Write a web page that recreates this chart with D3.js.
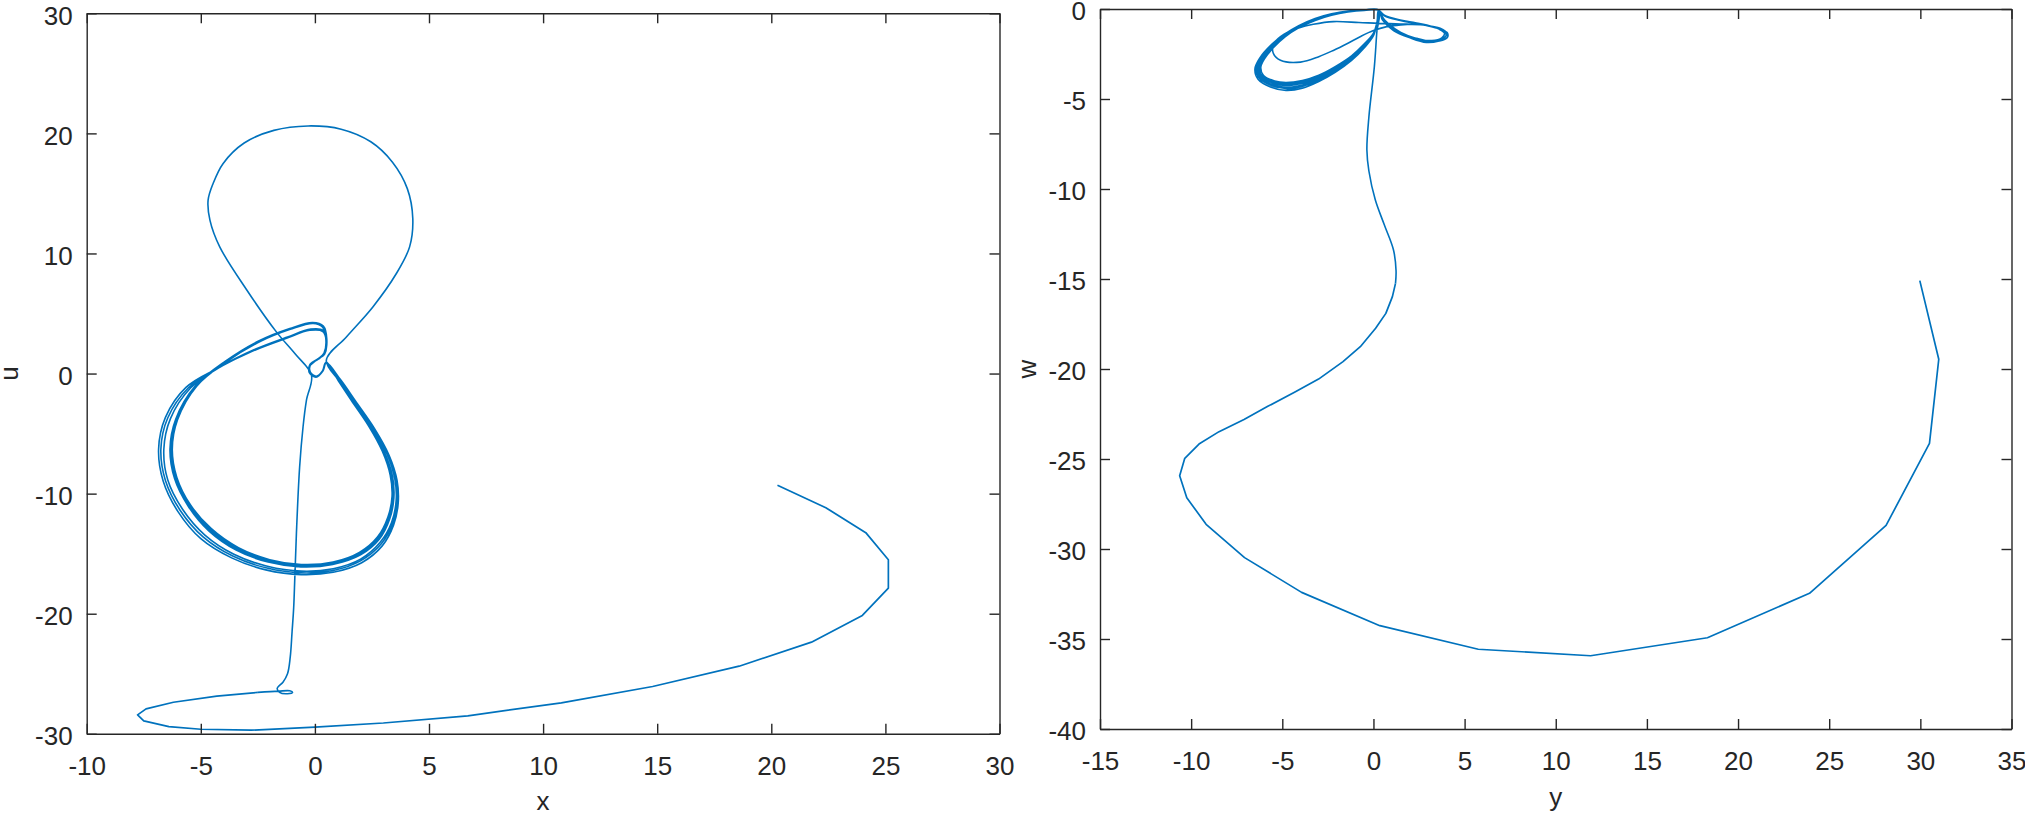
<!DOCTYPE html>
<html><head><meta charset="utf-8">
<script src="https://cdn.jsdelivr.net/npm/d3@7"></script>
<style>
body{margin:0;background:#fff}
svg{display:block}
text{font-family:"Liberation Sans",Arial,Helvetica,sans-serif}
</style>
</head><body>
<svg id="chart" width="2025" height="817"></svg>
<script>
// ---------- tick values ----------
const leftXTicks = [-10,-5,0,5,10,15,20,25,30];
const leftUTicks = [-30,-20,-10,0,10,20,30];
const rightYTicks = [-15,-10,-5,0,5,10,15,20,25,30,35];
const rightWTicks = [-40,-35,-30,-25,-20,-15,-10,-5,0];

// ---------- left panel (x, u) ----------
const leftTail = [[20.27,-9.31],[22.39,-11.17],[24.14,-13.25],[25.13,-15.5],[25.13,-17.87],[23.99,-20.14],[21.76,-22.37],[18.59,-24.37],[14.8,-26.06],[10.8,-27.42],[6.7,-28.5],[3.0,-29.1],[0.0,-29.45],[-2.8,-29.7],[-5.0,-29.62],[-6.4,-29.4],[-7.5,-28.92],[-7.77,-28.42],[-7.4,-27.92],[-6.2,-27.37],[-4.3,-26.87],[-2.5,-26.55]];
const leftEntry = [[-2.5,-26.55],[-1.6,-26.45],[-1.1,-26.42],[-0.98,-26.55],[-1.2,-26.66],[-1.55,-26.55],[-1.65,-26.2],[-1.4,-25.7],[-1.2,-25.0],[-1.08,-23.6],[-1.0,-21.5],[-0.93,-19.5],[-0.88,-17.0],[-0.81,-13.3],[-0.67,-7.8],[-0.52,-4.45],[-0.37,-2.22],[-0.15,-0.14],
 [-0.85,1.6],[-1.68,3.45],[-3.0,7.0],[-4.17,10.55],[-4.6,12.78],[-4.68,14.44],[-4.46,15.83],[-4.02,17.5],[-3.1,19.2],[-1.8,20.25],[-0.3,20.62],[1.15,20.35],[2.45,19.3],[3.4,17.6],[4.05,15.4],[4.29,12.9],[4.15,10.55],[3.57,8.33],[2.54,5.55],[1.38,3.05],[0.5,1.1]];
const leftLoops = [
 [[1.05,-0.6],[1.65,-2.3],[2.4,-4.4],[3.0,-6.5],[3.35,-8.5],[3.42,-10.3],[3.25,-12.0],[2.8,-13.7],[2.0,-15.0],[0.8,-15.8],[-0.6,-16.0],[-2.0,-15.6],[-3.4,-14.6],[-4.6,-13.0],[-5.5,-11.0],[-6.1,-8.7],[-6.3,-6.3],[-6.05,-3.8],[-5.2,-1.0],[-3.9,1.0],[-2.4,2.7],[-1.1,3.7],[-0.1,4.2],[0.35,3.9],[0.5,2.9],[0.42,1.7],[0.15,1.2],[-0.2,0.8],[-0.25,0.1],[0.05,-0.3],[0.35,0.2],[0.5,0.9]],
 [[1.08,-0.62],[1.7,-2.35],[2.45,-4.45],[3.05,-6.55],[3.4,-8.55],[3.46,-10.35],[3.28,-12.1],[2.82,-13.8],[2.0,-15.1],[0.78,-15.9],[-0.62,-16.1],[-2.05,-15.7],[-3.45,-14.7],[-4.65,-13.1],[-5.55,-11.05],[-6.15,-8.75],[-6.35,-6.3],[-6.1,-3.8],[-5.22,-0.98],[-3.92,1.03],[-2.42,2.75],[-1.1,3.75],[-0.1,4.25],[0.37,3.95],[0.52,2.9],[0.43,1.7],[0.15,1.2],[-0.22,0.75],[-0.22,0.05],[0.08,-0.25],[0.36,0.25],[0.5,0.95]],
 [[1.02,-0.58],[1.6,-2.25],[2.35,-4.35],[2.95,-6.45],[3.3,-8.45],[3.38,-10.25],[3.2,-11.95],[2.75,-13.6],[1.95,-14.9],[0.8,-15.7],[-0.6,-15.9],[-1.98,-15.5],[-3.35,-14.5],[-4.55,-12.9],[-5.45,-10.95],[-6.05,-8.65],[-6.25,-6.3],[-6.02,-3.85],[-5.18,-1.05],[-3.88,0.98],[-2.38,2.68],[-1.08,3.68],[-0.08,4.18],[0.33,3.88],[0.48,2.88],[0.4,1.7],[0.13,1.22],[-0.18,0.8],[-0.2,0.12],[0.06,-0.22],[0.33,0.22],[0.48,0.92]],
 [[1.1,-0.5],[1.75,-2.3],[2.55,-4.5],[3.2,-6.7],[3.55,-8.8],[3.6,-10.7],[3.4,-12.5],[2.9,-14.2],[2.0,-15.6],[0.8,-16.4],[-0.6,-16.6],[-2.1,-16.2],[-3.6,-15.2],[-4.9,-13.6],[-5.9,-11.4],[-6.55,-8.9],[-6.75,-6.3],[-6.45,-3.7],[-5.55,-1.2],[-4.2,0.5],[-2.7,1.9],[-1.25,2.95],[-0.2,3.65],[0.35,3.55],[0.5,2.7],[0.42,1.6],[0.12,1.2],[-0.2,0.7],[-0.2,0.05],[0.08,-0.25],[0.35,0.25],[0.5,0.9]],
 [[1.06,-0.6],[1.67,-2.32],[2.42,-4.42],[3.03,-6.52],[3.37,-8.52],[3.44,-10.32],[3.26,-12.05],[2.8,-13.75],[1.98,-15.05],[0.79,-15.85],[-0.61,-16.05],[-2.02,-15.65],[-3.42,-14.65],[-4.62,-13.05],[-5.52,-11.02],[-6.12,-8.72],[-6.32,-6.3],[-6.07,-3.8],[-5.21,-0.99],[-3.91,1.02],[-2.41,2.72],[-1.1,3.72],[-0.1,4.22],[0.36,3.92],[0.51,2.9],[0.42,1.7],[0.14,1.21],[-0.2,0.78],[-0.23,0.08],[0.06,-0.27],[0.35,0.22],[0.5,0.92]],
 [[1.1,-0.52],[1.72,-2.3],[2.5,-4.5],[3.15,-6.65],[3.5,-8.75],[3.56,-10.6],[3.36,-12.4],[2.86,-14.05],[2.0,-15.45],[0.8,-16.25],[-0.6,-16.45],[-2.08,-16.05],[-3.55,-15.05],[-4.82,-13.45],[-5.8,-11.3],[-6.45,-8.85],[-6.62,-6.3],[-6.33,-3.75],[-5.45,-1.2],[-4.15,0.55],[-2.65,2.0],[-1.2,3.05],[-0.18,3.7],[0.36,3.6],[0.5,2.75],[0.42,1.62],[0.12,1.2],[-0.2,0.72],[-0.21,0.06],[0.07,-0.26],[0.35,0.24],[0.5,0.9]],
 [[1.04,-0.59],[1.63,-2.28],[2.38,-4.38],[2.98,-6.48],[3.33,-8.48],[3.4,-10.28],[3.23,-11.98],[2.78,-13.65],[1.97,-14.95],[0.8,-15.75],[-0.6,-15.95],[-1.99,-15.55],[-3.38,-14.55],[-4.58,-12.95],[-5.48,-10.98],[-6.08,-8.68],[-6.28,-6.3],[-6.04,-3.82],[-5.19,-1.02],[-3.89,0.99],[-2.39,2.69],[-1.09,3.69],[-0.09,4.19],[0.34,3.89],[0.49,2.89],[0.41,1.7],[0.14,1.21],[-0.19,0.79],[-0.22,0.1],[0.05,-0.26],[0.34,0.21],[0.49,0.91]],
 [[1.12,-0.5],[1.8,-2.35],[2.6,-4.55],[3.25,-6.8],[3.6,-8.9],[3.65,-10.8],[3.45,-12.6],[2.95,-14.35],[2.05,-15.75],[0.8,-16.55],[-0.6,-16.75],[-2.15,-16.35],[-3.65,-15.35],[-5.0,-13.75],[-6.0,-11.5],[-6.65,-8.95],[-6.85,-6.3],[-6.55,-3.65],[-5.65,-1.15],[-4.25,0.45],[-2.75,1.85],[-1.3,2.9],[-0.22,3.6],[0.35,3.5],[0.5,2.7],[0.42,1.6],[0.12,1.2],[-0.2,0.7]]
];

// ---------- right panel (y, w) ----------
const rightTail = [[29.97,-15.09],[31.01,-19.46],[30.5,-24.13],[28.12,-28.69],[23.92,-32.46],[18.32,-34.93],[11.91,-35.93],[5.75,-35.57],[0.35,-34.26],[-3.94,-32.41],[-7.07,-30.48],[-9.18,-28.63],[-10.24,-27.15],[-10.63,-25.93],[-10.35,-24.96],[-9.57,-24.17],[-8.47,-23.48],[-7.1,-22.8],[-5.82,-22.09],[-4.28,-21.26],[-3.01,-20.56],[-1.67,-19.59],[-0.72,-18.76],[0.12,-17.74],[0.68,-16.91],[1.04,-15.98],[1.21,-15.24]];
const rightEntry = [[1.21,-15.24],[1.24,-14.54],[1.1,-13.39],[0.6,-12.0],[0.1,-10.6],[-0.25,-9.0],[-0.36,-7.83],[-0.25,-6.0],[0.05,-3.2],[0.18,-1.35],[0.28,-0.06]];
const rightLoops = [
 [[-0.5,-0.05],[-1.4,-0.12],[-2.3,-0.28],[-3.2,-0.55],[-4.1,-0.95],[-4.9,-1.45],[-5.6,-2.05],[-6.15,-2.7],[-6.42,-3.3],[-6.25,-3.85],[-5.6,-4.25],[-4.8,-4.42],[-3.9,-4.3],[-3.0,-3.95],[-2.1,-3.45],[-1.2,-2.8],[-0.5,-2.1],[0.0,-1.45],[0.2,-0.75],[0.28,-0.08]],
 [[-0.5,-0.06],[-1.4,-0.14],[-2.3,-0.3],[-3.2,-0.58],[-4.1,-0.98],[-4.9,-1.48],[-5.6,-2.08],[-6.1,-2.72],[-6.36,-3.3],[-6.2,-3.82],[-5.55,-4.2],[-4.8,-4.35],[-3.9,-4.22],[-3.0,-3.88],[-2.1,-3.38],[-1.2,-2.74],[-0.5,-2.05],[0.0,-1.42],[0.2,-0.74],[0.28,-0.08]],
 [[0.6,-0.35],[1.47,-0.61],[2.3,-0.76],[2.93,-0.89],[3.5,-1.07],[3.95,-1.3],[3.95,-1.55],[3.5,-1.72],[2.9,-1.8],[2.0,-1.55],[1.1,-1.17],[0.5,-0.6],[0.28,-0.08]],
 [[-0.5,-0.07],[-1.4,-0.15],[-2.3,-0.32],[-3.2,-0.6],[-4.1,-1.0],[-4.9,-1.5],[-5.55,-2.1],[-6.05,-2.72],[-6.3,-3.28],[-6.15,-3.78],[-5.5,-4.12],[-4.8,-4.25],[-3.9,-4.12],[-3.0,-3.8],[-2.1,-3.3],[-1.2,-2.68],[-0.5,-2.0],[0.0,-1.38],[0.2,-0.72],[0.28,-0.08]],
 [[-0.5,-0.07],[-1.4,-0.16],[-2.3,-0.33],[-3.2,-0.62],[-4.1,-1.02],[-4.88,-1.52],[-5.52,-2.12],[-6.0,-2.72],[-6.25,-3.26],[-6.1,-3.74],[-5.48,-4.06],[-4.8,-4.17],[-3.9,-4.05],[-3.0,-3.74],[-2.1,-3.25],[-1.2,-2.64],[-0.5,-1.97],[0.0,-1.36],[0.2,-0.71],[0.28,-0.08]],
 [[0.6,-0.38],[1.47,-0.64],[2.3,-0.8],[2.95,-0.93],[3.6,-1.1],[4.05,-1.32],[4.05,-1.58],[3.6,-1.78],[2.9,-1.86],[2.0,-1.6],[1.1,-1.2],[0.5,-0.62],[0.28,-0.08]],
 [[-0.5,-0.08],[-1.4,-0.17],[-2.3,-0.35],[-3.2,-0.64],[-4.1,-1.05],[-4.85,-1.55],[-5.48,-2.14],[-5.95,-2.72],[-6.18,-3.24],[-6.03,-3.7],[-5.42,-4.0],[-4.8,-4.08],[-3.9,-3.97],[-3.0,-3.68],[-2.1,-3.2],[-1.2,-2.6],[-0.5,-1.94],[0.0,-1.34],[0.2,-0.7],[0.28,-0.08]],
 [[0.55,-0.52],[0.92,-0.98],[1.47,-1.35],[2.38,-1.63],[3.29,-1.81],[3.84,-1.63],[4.03,-1.35],[3.66,-1.07],[2.74,-0.89],[1.47,-0.83],[0.3,-0.8],[-0.8,-0.75],[-2.2,-0.7],[-3.3,-0.85],[-4.1,-1.05],[-4.9,-1.4],[-5.45,-1.9],[-5.5,-2.45],[-5.1,-2.85],[-4.0,-2.95],[-3.0,-2.65],[-2.2,-2.3],[-1.4,-1.9],[-0.73,-1.54],[0.0,-1.2],[0.73,-0.98],[1.5,-0.88],[2.3,-0.85],[3.0,-0.92],[3.6,-1.12],[3.9,-1.35],[3.75,-1.6],[3.2,-1.75],[2.4,-1.65],[1.5,-1.3],[0.8,-0.8],[0.4,-0.35],[0.28,-0.06]],
 [[-0.5,-0.05],[-1.4,-0.11],[-2.3,-0.27],[-3.2,-0.53],[-4.1,-0.93],[-4.92,-1.43],[-5.65,-2.03],[-6.22,-2.7],[-6.5,-3.32],[-6.33,-3.9],[-5.65,-4.33],[-4.8,-4.52],[-3.9,-4.4],[-3.0,-4.03],[-2.1,-3.52],[-1.2,-2.86],[-0.5,-2.15],[0.0,-1.48],[0.2,-0.76],[0.28,-0.08]]
];

// ---------- drawing ----------
const svg = d3.select("#chart");
const lineColor = "#0072BD";
const axisColor = "#262626";
const fmt = d => String(d);

function panel(cfg){
  const x = d3.scaleLinear().domain(cfg.xDomain).range([cfg.left, cfg.right]);
  const y = d3.scaleLinear().domain(cfg.yDomain).range([cfg.bottom, cfg.top]);
  const g = svg.append("g");

  const lineLin = d3.line().x(d=>x(d[0])).y(d=>y(d[1])).curve(d3.curveLinear);
  const lineSmooth = d3.line().x(d=>x(d[0])).y(d=>y(d[1])).curve(d3.curveCatmullRom.alpha(0.5));
  g.append("path").datum(cfg.tail).attr("d", lineLin)
    .attr("fill","none").attr("stroke",lineColor).attr("stroke-width",1.7).attr("stroke-linejoin","round");
  const orbit = cfg.entry.concat(...cfg.loops);
  g.append("path").datum(orbit).attr("d", lineSmooth)
    .attr("fill","none").attr("stroke",lineColor).attr("stroke-width",1.6).attr("stroke-linejoin","round");

  const styleAxis = sel => {
    sel.selectAll("path.domain").attr("stroke",axisColor).attr("stroke-width",1.4);
    sel.selectAll(".tick line").attr("stroke",axisColor).attr("stroke-width",1.4);
    sel.selectAll(".tick text").attr("fill",axisColor).style("font-size","26px")
       .style("font-family",'"Liberation Sans",Arial,sans-serif');
  };
  g.append("g").attr("transform",`translate(0,${cfg.bottom})`)
    .call(d3.axisBottom(x).tickValues(cfg.xTicks).tickFormat(fmt).tickSizeInner(-10).tickSizeOuter(0).tickPadding(23))
    .call(styleAxis);
  g.append("g").attr("transform",`translate(0,${cfg.top})`)
    .call(d3.axisTop(x).tickValues(cfg.xTicks).tickSizeInner(-10).tickSizeOuter(0).tickFormat(""))
    .call(styleAxis);
  g.append("g").attr("transform",`translate(${cfg.left},0)`)
    .call(d3.axisLeft(y).tickValues(cfg.yTicks).tickFormat(fmt).tickSizeInner(-10).tickSizeOuter(0).tickPadding(14))
    .call(styleAxis)
    .selectAll(".tick text").attr("dy","0.42em");
  g.append("g").attr("transform",`translate(${cfg.right},0)`)
    .call(d3.axisRight(y).tickValues(cfg.yTicks).tickSizeInner(-10).tickSizeOuter(0).tickFormat(""))
    .call(styleAxis);

  g.append("text").attr("x",(cfg.left+cfg.right)/2).attr("y",cfg.xLabelY)
    .attr("text-anchor","middle").attr("fill",axisColor).style("font-size","26px").text(cfg.xLabel);
  g.append("text").attr("transform",`translate(${cfg.yLabelX},${(cfg.top+cfg.bottom)/2}) rotate(-90)`)
    .attr("text-anchor","middle").attr("fill",axisColor).style("font-size","26px").text(cfg.yLabel);
}

panel({xDomain:[-10,30], yDomain:[-30,30], left:86.7, right:999.5, top:13.3, bottom:733.8,
  xTicks:leftXTicks, yTicks:leftUTicks, tail:leftTail, entry:leftEntry, loops:leftLoops,
  xLabel:"x", yLabel:"u", xLabelY:810, yLabelX:18});
panel({xDomain:[-15,35], yDomain:[-40,0], left:1100, right:2011.5, top:9, bottom:729,
  xTicks:rightYTicks, yTicks:rightWTicks, tail:rightTail, entry:rightEntry, loops:rightLoops,
  xLabel:"y", yLabel:"w", xLabelY:806, yLabelX:1036});
</script>
</body></html>
